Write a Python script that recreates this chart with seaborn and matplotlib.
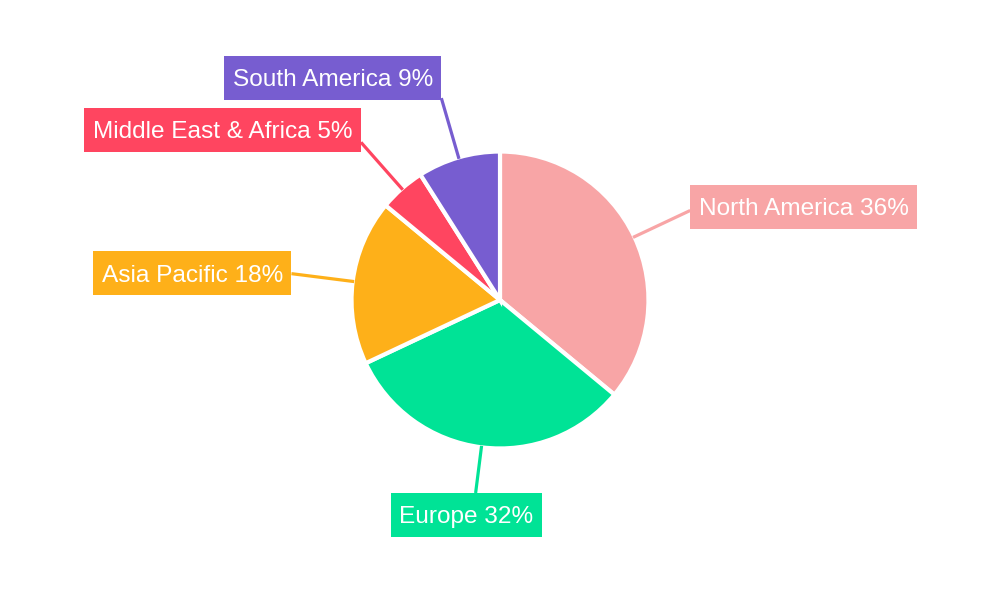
import numpy as np
import matplotlib
matplotlib.use("Agg")
import matplotlib.pyplot as plt
from matplotlib.patches import Rectangle
import seaborn as sns

# Regional share of revenue (%)
regions = ["North America", "Europe", "Asia Pacific", "Middle East & Africa", "South America"]
shares = [36, 32, 18, 5, 9]
colors = ["#F8A5A6", "#00E396", "#FEB019", "#FF4560", "#775DD0"]

sns.set_theme(style="white")
plt.rcParams["font.family"] = ["Liberation Sans", "DejaVu Sans"]

fig = plt.figure(figsize=(10, 6), dpi=100)
ax = fig.add_axes([0, 0, 1, 1])

ax.pie(
    shares,
    colors=colors,
    startangle=90,
    counterclock=False,
    radius=1.01,
    wedgeprops=dict(edgecolor="white", linewidth=3),
)

# Axes scale: one data unit = 147 px, pie centred on the canvas
px = 147.0
ax.set_xlim(-500 / px, 500 / px)
ax.set_ylim(-300 / px, 300 / px)
ax.set_aspect("equal")
ax.axis("off")

renderer = fig.canvas.get_renderer()

fontsize = 17.6
pad_x = 8.5 / px      # horizontal box padding (data units)
box_h = 44 / px       # label box height (data units)
label_r = 1.43        # where the leader line meets the box
y_floor = -237 / px   # lowest allowed box edge

total = float(sum(shares))
cum = 0.0
for name, val, col in zip(regions, shares, colors):
    mid = (cum + val / 2) / total * 2 * np.pi  # clockwise from 12 o'clock
    cum += val
    s, c = np.sin(mid), np.cos(mid)

    t = ax.text(0, 0, f"{name} {val}%", ha="center", va="center_baseline",
                fontsize=fontsize, color="white", zorder=6)
    text_w = t.get_window_extent(renderer).width / px
    box_w = text_w + 2 * pad_x

    r = label_r
    if c < -0.5 and r * c - box_h < y_floor:
        r = (y_floor + box_h) / c
    xa, ya = r * s, r * c

    # box sits outward from the anchor point
    fx = s if abs(s) < 0.2 else np.sign(s)
    fy = np.sign(c) * c ** 2
    cx = xa + fx * box_w / 2
    cy = ya + fy * box_h / 2

    t.set_position((cx, cy))
    ax.add_patch(Rectangle((cx - box_w / 2, cy - box_h / 2), box_w, box_h,
                           facecolor=col, edgecolor="none", zorder=5))
    ax.plot([s * 1.0, xa], [c * 1.0, ya], color=col, linewidth=2.3,
            solid_capstyle="butt", zorder=1)

fig.savefig("out.png", dpi=100, facecolor="white")
